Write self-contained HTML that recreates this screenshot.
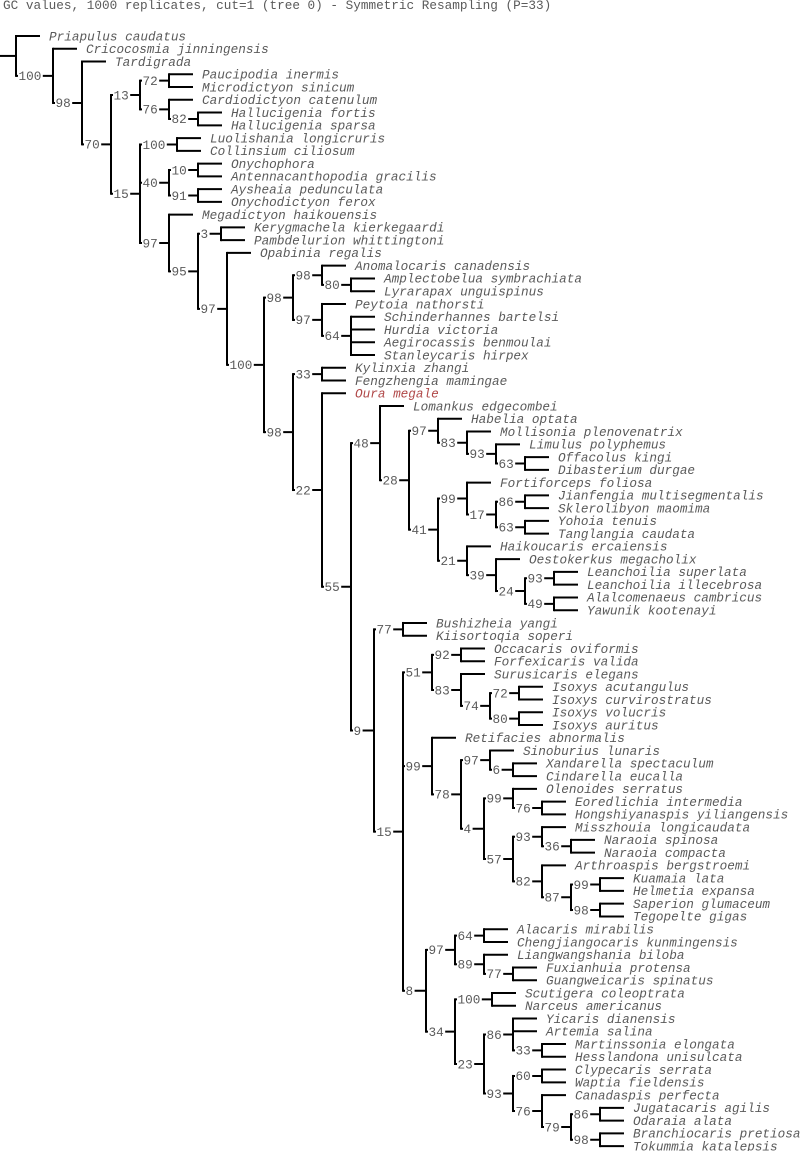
<!DOCTYPE html>
<html><head><meta charset="utf-8">
<style>
html,body{margin:0;padding:0;background:#fff;}
svg{display:block;}
text{font-family:"Liberation Mono","DejaVu Sans Mono",monospace;font-size:12.7px;fill:#5a5a5a;}
.lf{font-style:italic;}
</style></head>
<body>
<svg id="s" width="800" height="1151" viewBox="0 0 800 1151" xmlns="http://www.w3.org/2000/svg">
<text x="3" y="9">GC values, 1000 replicates, cut=1 (tree 0) - Symmetric Resampling (P=33)</text>
<g id="g" stroke="#000" stroke-width="2" fill="none"></g>
<g id="t"></g>
</svg>
<script>
function N(l){var a=[l];for(var i=1;i<arguments.length;i++)a.push(arguments[i]);return a;}
var hab = N('97','Habelia optata',N('83','Mollisonia plenovenatrix',N('93','Limulus polyphemus',N('63','Offacolus kingi','Dibasterium durgae'))));
var fort = N('99','Fortiforceps foliosa',N('17',N('86','Jianfengia multisegmentalis','Sklerolibyon maomima'),N('63','Yohoia tenuis','Tanglangia caudata')));
var lean = N('21','Haikoucaris ercaiensis',N('39','Oestokerkus megacholix',N('24',N('93','Leanchoilia superlata','Leanchoilia illecebrosa'),N('49','Alalcomenaeus cambricus','Yawunik kootenayi'))));
var n48 = N('48','Lomankus edgecombei',N('28',hab,N('41',fort,lean)));
var isox = N('51',N('92','Occacaris oviformis','Forfexicaris valida'),N('83','Surusicaris elegans',N('74',N('72','Isoxys acutangulus','Isoxys curvirostratus'),N('80','Isoxys volucris','Isoxys auritus'))));
var ole = N('99','Olenoides serratus',N('76','Eoredlichia intermedia','Hongshiyanaspis yiliangensis'));
var n57 = N('57',N('93','Misszhouia longicaudata',N('36','Naraoia spinosa','Naraoia compacta')),N('82','Arthroaspis bergstroemi',N('87',N('99','Kuamaia lata','Helmetia expansa'),N('98','Saperion glumaceum','Tegopelte gigas'))));
var ret = N('99','Retifacies abnormalis',N('78',N('97','Sinoburius lunaris',N('6','Xandarella spectaculum','Cindarella eucalla')),N('4',ole,n57)));
var fux = N('97',N('64','Alacaris mirabilis','Chengjiangocaris kunmingensis'),N('89','Liangwangshania biloba',N('77','Fuxianhuia protensa','Guangweicaris spinatus')));
var n93b = N('93',N('60','Clypecaris serrata','Waptia fieldensis'),N('76','Canadaspis perfecta',N('79',N('86','Jugatacaris agilis','Odaraia alata'),N('98','Branchiocaris pretiosa','Tokummia katalepsis'))));
var n34 = N('34',N('100','Scutigera coleoptrata','Narceus americanus'),N('23',N('86','Yicaris dianensis','Artemia salina',N('33','Martinssonia elongata','Hesslandona unisulcata')),n93b));
var n9 = N('9',N('77','Bushizheia yangi','Kiisortoqia soperi'),N('15',isox,ret,N('8',fux,n34)));
var rad = N('98',N('98','Anomalocaris canadensis',N('80','Amplectobelua symbrachiata','Lyrarapax unguispinus')),N('97','Peytoia nathorsti',N('64','Schinderhannes bartelsi','Hurdia victoria','Aegirocassis benmoulai','Stanleycaris hirpex')));
var eu = N('98',N('33','Kylinxia zhangi','Fengzhengia mamingae'),N('22','Oura megale',N('55',n48,n9)));
var n97 = N('97','Megadictyon haikouensis',N('95',N('3','Kerygmachela kierkegaardi','Pambdelurion whittingtoni'),N('97','Opabinia regalis',N('100',rad,eu))));
var lobo = N('15',N('100','Luolishania longicruris','Collinsium ciliosum'),N('40',N('10','Onychophora','Antennacanthopodia gracilis'),N('91','Aysheaia pedunculata','Onychodictyon ferox')),n97);
var hal = N('13',N('72','Paucipodia inermis','Microdictyon sinicum'),N('76','Cardiodictyon catenulum',N('82','Hallucigenia fortis','Hallucigenia sparsa')));
var tree = N('','Priapulus caudatus',N('100','Cricocosmia jinningensis',N('98','Tardigrada',N('70',hal,lobo))));

var NS='http://www.w3.org/2000/svg',G=document.getElementById('g'),T=document.getElementById('t');
var idx=0;
function W(l){return l.length==1?23:(l.length==2?29:37);}
function ln(x1,y1,x2,y2){var e=document.createElementNS(NS,'line');e.setAttribute('x1',x1);e.setAttribute('y1',y1);e.setAttribute('x2',x2);e.setAttribute('y2',y2);G.appendChild(e);}
function tx(x,y,s,c,col){var e=document.createElementNS(NS,'text');e.setAttribute('x',x);e.setAttribute('y',y);if(c)e.setAttribute('class',c);if(col)e.setAttribute('style','fill:'+col);e.textContent=s;T.appendChild(e);}
function rect(x,y,w,h){var e=document.createElementNS(NS,'rect');e.setAttribute('x',x);e.setAttribute('y',y);e.setAttribute('width',w);e.setAttribute('height',h);e.setAttribute('fill','#fff');T.appendChild(e);}
function lay(n,x){
 var ys=[];
 for(var i=1;i<n.length;i++){
  var c=n[i];
  if(typeof c==='string'){
   var y=36+idx*12.76;idx++;
   ln(x,y,x+24,y);
   tx(x+33,y+4.3,c,'lf',c==='Oura megale'?'#b04848':null);
   ys.push(y);
  } else {
   var cx=x+W(c[0]);
   var cy=lay(c,cx);
   ln(x,cy,cx,cy);
   rect(x+2,cy-6,c[0].length*7.6+2,12);
   tx(x+2.5,cy+4.3,c[0]);
   ys.push(cy);
  }
 }
 ln(x,ys[0]-1,x,ys[ys.length-1]+1);
 return (ys[0]+ys[ys.length-1])/2;
}
var ry=lay(tree,16);
ln(0,ry,16,ry);
</script>
</body></html>
